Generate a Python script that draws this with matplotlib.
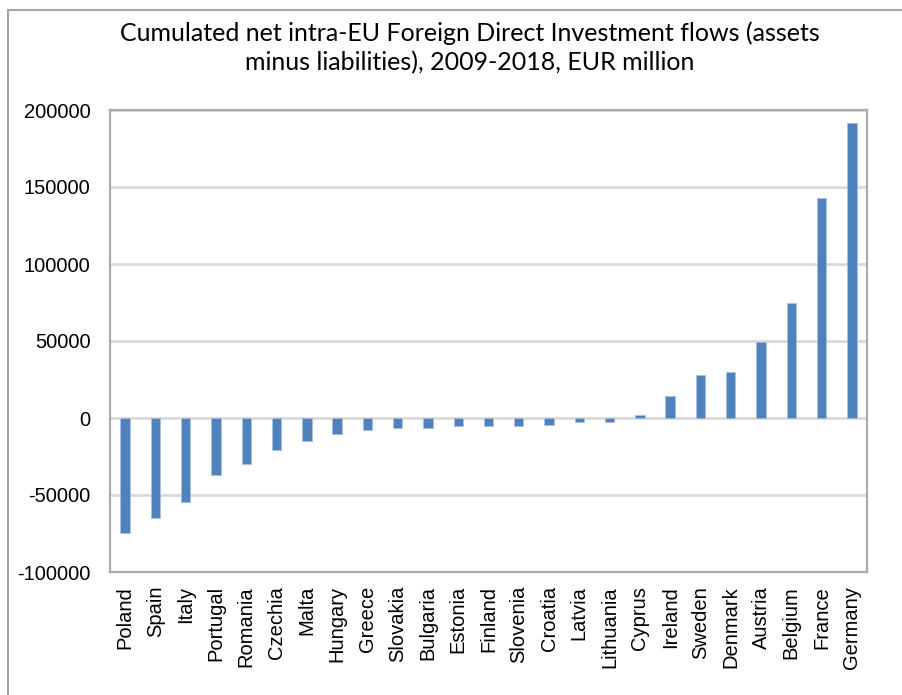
import matplotlib
matplotlib.use("Agg")
import matplotlib.pyplot as plt
from matplotlib.patches import Rectangle

countries = ["Poland", "Spain", "Italy", "Portugal", "Romania", "Czechia", "Malta",
             "Hungary", "Greece", "Slovakia", "Bulgaria", "Estonia", "Finland",
             "Slovenia", "Croatia", "Latvia", "Lithuania", "Cyprus", "Ireland",
             "Sweden", "Denmark", "Austria", "Belgium", "France", "Germany"]
net_flows = [-74700, -65200, -54800, -37100, -29600, -20700, -14900,
             -10600, -7500, -6500, -6500, -5400, -5400,
             -5000, -4300, -2600, -2400, 1900, 14000,
             27700, 29900, 49100, 74700, 143100, 191600]
y_ticks = [-100000, -50000, 0, 50000, 100000, 150000, 200000]
title = ("Cumulated net intra-EU Foreign Direct Investment flows (assets\n"
         "minus liabilities), 2009-2018, EUR million")

W, H = 903, 695
fig = plt.figure(figsize=(W / 100, H / 100), dpi=100)
fig.patch.set_facecolor("white")

# outer chart frame (top and left edges visible)
fig.patches.append(Rectangle((8 / W, -0.05), 1.2, 1.05 - 10 / H,
                             transform=fig.transFigure, fill=False,
                             edgecolor="#A6A6A6", linewidth=1.5, zorder=0))

ax = fig.add_axes([110 / W, (H - 572) / H, (867 - 110) / W, (572 - 110) / H])
x = range(len(countries))
ax.bar(x, net_flows, width=0.31, color="#4F81BD", edgecolor="#A9C0DE",
       linewidth=0.6, zorder=3)

ax.set_xlim(-0.5, len(countries) - 0.5)
ax.set_ylim(y_ticks[0], y_ticks[-1])
ax.set_yticks(y_ticks)
ax.set_yticklabels([str(v) for v in y_ticks])
ax.set_xticks(list(x))
ax.set_xticklabels(countries, rotation=90)
ax.tick_params(axis="both", length=0, labelsize=14.5)
ax.tick_params(axis="y", pad=14)
ax.tick_params(axis="x", pad=10)
for lab in ax.get_xticklabels() + ax.get_yticklabels():
    lab.set_fontfamily("Liberation Sans")

ax.grid(axis="y", color="#D9D9D9", linewidth=2, zorder=0)
ax.set_axisbelow(True)
for s in ax.spines.values():
    s.set_color("#ABABAB")
    s.set_linewidth(1.6)

fig.text(470 / W, 1 - 48 / H, title, ha="center", va="center",
         fontsize=18.0, fontfamily="Lato", linespacing=1.32)

fig.savefig("out.png", dpi=100)
